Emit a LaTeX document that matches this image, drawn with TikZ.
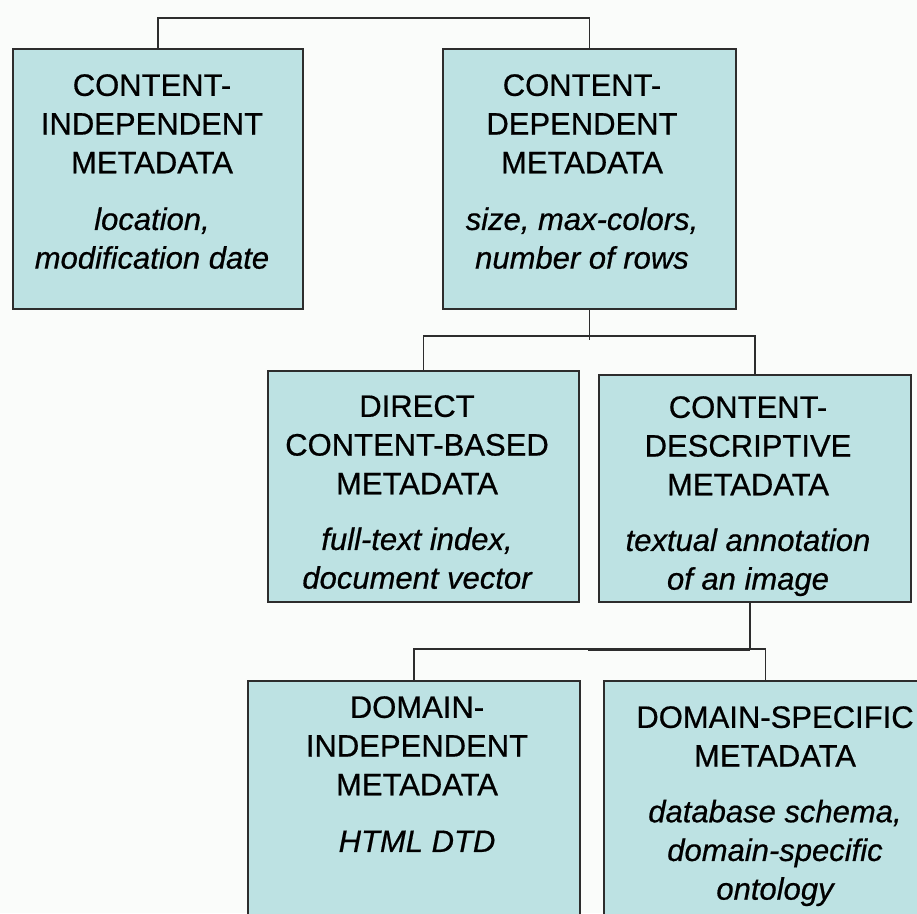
\documentclass[tikz,border=0pt]{standalone}
\usepackage{fontspec}
\setmainfont{Liberation Sans}[UprightFeatures={FakeBold=0.6},ItalicFeatures={FakeBold=0.6}]
\definecolor{boxfill}{RGB}{189,226,227}
\definecolor{boxline}{RGB}{45,45,45}
\definecolor{paper}{RGB}{250,252,250}
\begin{document}
\begin{tikzpicture}[x=1pt,y=-1pt,
  metabox/.style={draw=boxline,line width=1.8pt,fill=boxfill,rectangle,inner sep=0pt,anchor=north west},
  metatext/.style={align=center,anchor=north,inner sep=0pt,text=black,
    font=\fontsize{31}{38.7}\selectfont},
  link/.style={draw=boxline,line width=1.5pt}]
\useasboundingbox (0,0) rectangle (917,913);
\fill[paper] (0,0) rectangle (917,913);
\clip (0,0) rectangle (917,913);

% boxes
\node[metabox,minimum width=290pt,minimum height=260pt] (ci) at (12,48) {};
\node[metabox,minimum width=293pt,minimum height=260pt] (cd) at (442,48) {};
\node[metabox,minimum width=311pt,minimum height=231pt] (dc) at (267,370) {};
\node[metabox,minimum width=312pt,minimum height=227pt] (de) at (598,374) {};
\node[metabox,minimum width=332pt,minimum height=260pt] (di) at (247,680) {};
\node[metabox,minimum width=335pt,minimum height=260pt] (ds) at (603,680) {};

% texts
\node[metatext] (tci) at (152,74) {CONTENT-\\INDEPENDENT\\METADATA\\[18pt]\itshape location,\\\itshape modification date};
\node[metatext] (tcd) at (582,74) {CONTENT-\\DEPENDENT\\METADATA\\[18pt]\itshape size, max-colors,\\\itshape number of rows};
\node[metatext] (tdc) at (417,395) {DIRECT\\CONTENT-BASED\\METADATA\\[17pt]\itshape full-text index,\\\itshape document vector};
\node[metatext] (tde) at (748,396) {CONTENT-\\DESCRIPTIVE\\METADATA\\[17pt]\itshape textual annotation\\\itshape of an image};
\node[metatext] (tdi) at (417,696) {DOMAIN-\\INDEPENDENT\\METADATA\\[18pt]\itshape HTML DTD};
\node[metatext] (tds) at (775,706) {DOMAIN-SPECIFIC\\METADATA\\[17pt]\itshape database schema,\\\itshape domain-specific\\\itshape ontology};

% connectors
\coordinate (j1) at (0,18);
\coordinate (j2) at (0,336);
\coordinate (j3) at (0,649);
\draw[link] (ci.north) -- (ci.north |- j1) -| (cd.north);
\draw[link] (cd.south) -- ++(0,30);
\draw[link] (dc.north) -- (dc.north |- j2) -| (de.north);
\coordinate (dsrc) at ([xshift=-5pt]de.south);
\coordinate (dsin) at ([xshift=-6pt]ds.north);
\draw[link] (dsrc) -- (dsrc |- j3);
\draw[link] (di.north) -- (di.north |- j3) -| (dsin);
\draw[boxline,line width=3pt] ([yshift=-0.8pt]588,649) -- ([yshift=-0.8pt]dsrc |- j3);
\end{tikzpicture}
\end{document}
